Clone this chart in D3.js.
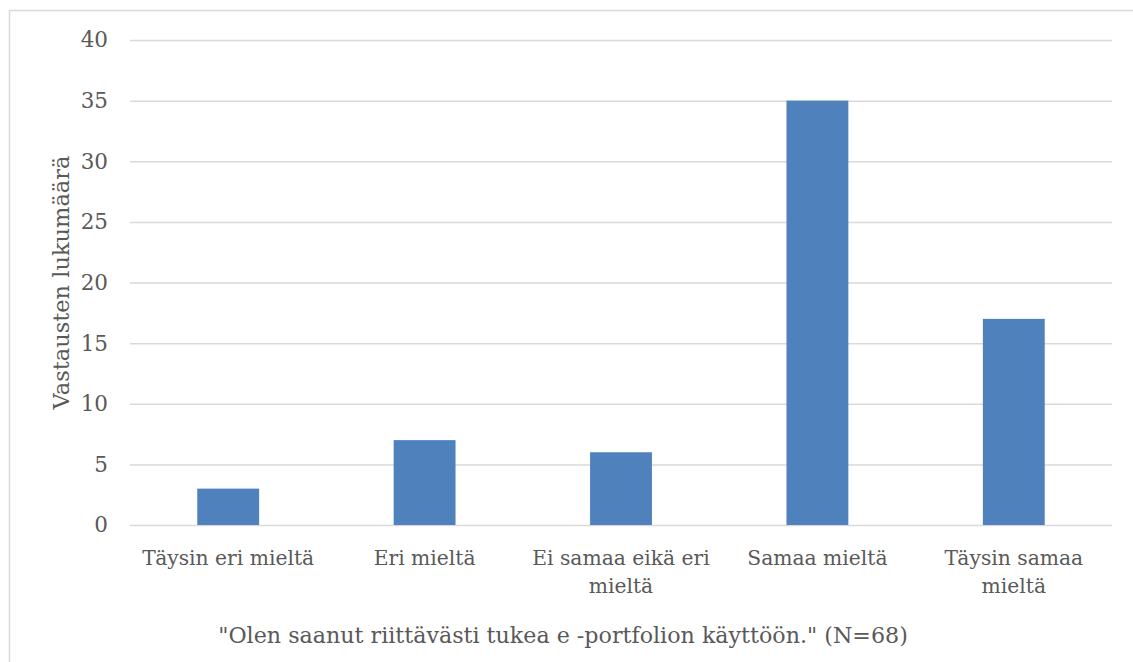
<!DOCTYPE html>
<html>
<head>
<meta charset="utf-8">
<script src="https://cdn.jsdelivr.net/npm/d3@7"></script>
<style>
  body { margin: 0; background: #fff; }
  text { font-family: "DejaVu Serif", "Liberation Serif", serif; fill: #595959; }
</style>
</head>
<body>
<svg id="canvas"></svg>
<script>
let categories = ['Täysin eri mieltä', 'Eri mieltä', 'Ei samaa eikä eri mieltä', 'Samaa mieltä', 'Täysin samaa mieltä']
let catLines = [['Täysin eri mieltä'], ['Eri mieltä'], ['Ei samaa eikä eri', 'mieltä'], ['Samaa mieltä'], ['Täysin samaa', 'mieltä']]
let counts = [3, 7, 6, 35, 17]
let yTicks = [0, 5, 10, 15, 20, 25, 30, 35, 40]

let yTitle = 'Vastausten lukumäärä'
let xTitle = '"Olen saanut riittävästi tukea e -portfolion käyttöön." (N=68)'

let width = 1133
let height = 662
let plotLeft = 130, plotRight = 1112, plotTop = 40, plotBottom = 525

let canvas = d3.select('#canvas').attr('width', width).attr('height', height)

// chart frame
canvas.append('path')
  .attr('d', `M9.5,${height} V10.5 H${width}`)
  .attr('fill', 'none')
  .attr('stroke', '#d9d9d9')
  .attr('stroke-width', 1.5)

let xScale = d3.scaleBand()
  .domain(categories)
  .range([plotLeft, plotRight])
  .paddingInner(0.685)
  .paddingOuter(0.3425)

let yScale = d3.scaleLinear()
  .domain([0, 40])
  .range([plotBottom, plotTop])

// gridlines + y labels
let yAxis = d3.axisLeft(yScale)
  .tickValues(yTicks)
  .tickSize(-(plotRight - plotLeft))
  .tickPadding(22)

let gy = canvas.append('g')
  .attr('transform', `translate(${plotLeft},0)`)
  .call(yAxis)
gy.select('.domain').remove()
gy.selectAll('line').attr('stroke', '#d9d9d9').attr('stroke-width', 1.5)
gy.selectAll('text')
  .style('font-size', '21.5px')
  .style('font-family', '"DejaVu Serif", serif')
  .attr('fill', '#595959')

// bars
canvas.append('g')
  .selectAll('rect')
  .data(counts)
  .enter()
  .append('rect')
  .attr('x', (d, i) => xScale(categories[i]))
  .attr('width', xScale.bandwidth())
  .attr('y', d => yScale(d))
  .attr('height', d => yScale(0) - yScale(d))
  .attr('fill', '#4f81bd')

// category labels
let catG = canvas.append('g')
catLines.forEach((lines, i) => {
  let t = catG.append('text')
    .attr('text-anchor', 'middle')
    .style('font-size', '20.3px')
  lines.forEach((ln, j) => {
    t.append('tspan')
      .attr('x', xScale(categories[i]) + xScale.bandwidth() / 2)
      .attr('y', 565 + j * 28)
      .text(ln)
  })
})

// axis titles
canvas.append('text')
  .attr('transform', `translate(69,${(plotTop + plotBottom) / 2}) rotate(-90)`)
  .attr('text-anchor', 'middle')
  .style('font-size', '22.5px')
  .text(yTitle)

canvas.append('text')
  .attr('x', 563)
  .attr('y', 643)
  .attr('text-anchor', 'middle')
  .style('font-size', '22.2px')
  .text(xTitle)
</script>
</body>
</html>
